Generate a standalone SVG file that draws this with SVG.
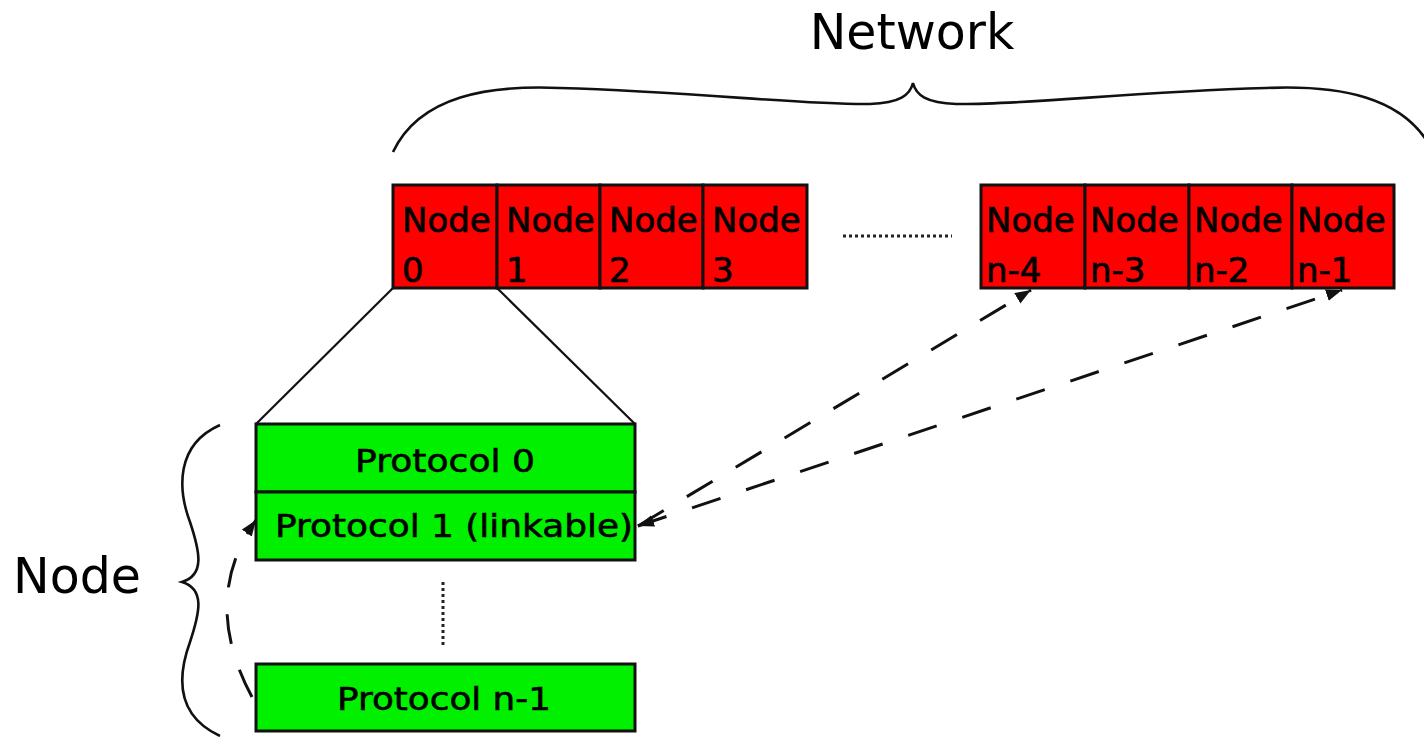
<svg xmlns="http://www.w3.org/2000/svg" width="1424" height="737" viewBox="0 0 1424 737">
<style>
.red{fill:#ff0000;stroke:#111;stroke-width:3}
.grn{fill:#00f000;stroke:#111;stroke-width:3}
.nt{font-family:"DejaVu Sans","Liberation Sans",sans-serif;font-size:34px;fill:#000;stroke:#000;stroke-width:0.7}
.pt{font-family:"DejaVu Sans","Liberation Sans",sans-serif;font-size:32px;fill:#000;stroke:#000;stroke-width:0.6}
.lbl{font-family:"DejaVu Sans","Liberation Sans",sans-serif;font-size:49px;fill:#000}
.ln{fill:none;stroke:#111;stroke-width:2.2}
.br{fill:none;stroke:#111;stroke-width:2.6}
.dash{fill:none;stroke:#111;stroke-width:3;stroke-dasharray:30 27}
.dot{fill:none;stroke:#222;stroke-width:3;stroke-dasharray:3 3}
</style>
<defs>
<marker id="ah" markerUnits="userSpaceOnUse" markerWidth="18" markerHeight="14" refX="16" refY="6" orient="auto-start-reverse" viewBox="0 0 18 14">
<path d="M0,0 L16,6 L0,12 z" fill="#111"/>
</marker>
</defs>
<rect width="1424" height="737" fill="#fff"/>
<g id="label-network"><text class="lbl" x="912" y="49" text-anchor="middle">Network</text></g>
<g id="label-node"><text class="lbl" x="13" y="593" font-size="48">Node</text></g>
<g id="braces">
<path class="br" d="M393,152 C420,95 490,85 560,88 C700,92 800,105 870,104 C900,103 910,95 913,83 C916,95 926,103 956,104 C1026,105 1126,92 1266,88 C1336,85 1406,95 1433,152"/>
<path class="br" d="M220,425 C175,445 178,490 190,522 C200,552 205,575 182,582 C205,589 200,612 190,642 C178,675 175,715 220,736"/>
</g>
<g id="node0"><rect class="red" x="393" y="185" width="104" height="103"/><text class="nt" x="402" y="232">Node</text><text class="nt" x="402" y="282">0</text></g>
<g id="node1"><rect class="red" x="497" y="185" width="103" height="103"/><text class="nt" x="506" y="232">Node</text><text class="nt" x="506" y="282">1</text></g>
<g id="node2"><rect class="red" x="600" y="185" width="103" height="103"/><text class="nt" x="609" y="232">Node</text><text class="nt" x="609" y="282">2</text></g>
<g id="node3"><rect class="red" x="703" y="185" width="104" height="103"/><text class="nt" x="712" y="232">Node</text><text class="nt" x="712" y="282">3</text></g>
<g id="node-n4"><rect class="red" x="981" y="185" width="104" height="103"/><text class="nt" x="986" y="232">Node</text><text class="nt" x="986" y="282">n-4</text></g>
<g id="node-n3"><rect class="red" x="1085" y="185" width="104" height="103"/><text class="nt" x="1090" y="232">Node</text><text class="nt" x="1090" y="282">n-3</text></g>
<g id="node-n2"><rect class="red" x="1189" y="185" width="103" height="103"/><text class="nt" x="1194" y="232">Node</text><text class="nt" x="1194" y="282">n-2</text></g>
<g id="node-n1"><rect class="red" x="1292" y="185" width="102" height="103"/><text class="nt" x="1297" y="232">Node</text><text class="nt" x="1297" y="282">n-1</text></g>
<g id="protocol0"><rect class="grn" x="256" y="424" width="379" height="68"/><text class="pt" x="445" y="472" text-anchor="middle" textLength="180" lengthAdjust="spacingAndGlyphs">Protocol 0</text></g>
<g id="protocol1"><rect class="grn" x="256" y="492" width="379" height="68"/><text class="pt" x="454" y="537" text-anchor="middle" textLength="358" lengthAdjust="spacingAndGlyphs">Protocol 1 (linkable)</text></g>
<g id="protocol-n1"><rect class="grn" x="256" y="664" width="379" height="67"/><text class="pt" x="444" y="710" text-anchor="middle" textLength="214" lengthAdjust="spacingAndGlyphs">Protocol n-1</text></g>
<g id="connectors">
<path class="ln" d="M393,288 L256,424"/>
<path class="ln" d="M497,288 L635,424"/>
<path class="dot" d="M843,236 L952,236"/>
<path class="dot" d="M443,582 L443,646"/>
<path class="dash" d="M638,526 L1031,290" marker-end="url(#ah)"/>
<path class="dash" d="M638,526 L1342,290" marker-start="url(#ah)" marker-end="url(#ah)"/>
<path class="dash" d="M252,697 Q200,600 256,520" marker-end="url(#ah)"/>
</g>
</svg>
